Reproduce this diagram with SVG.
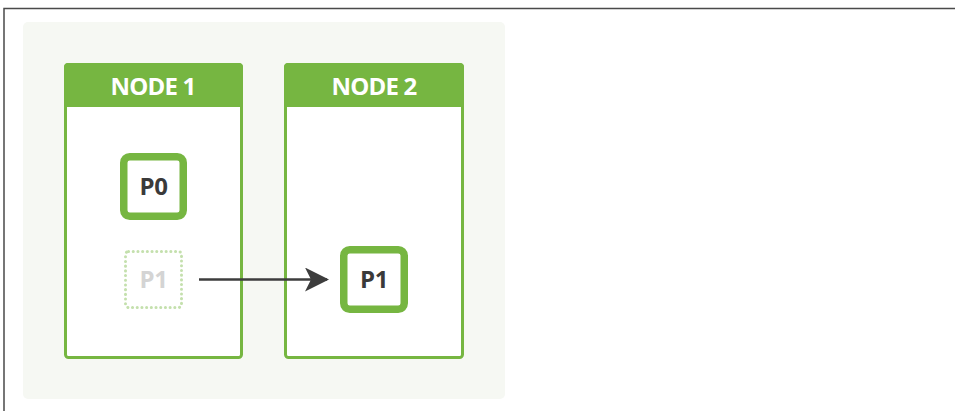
<svg xmlns="http://www.w3.org/2000/svg" width="955" height="411" viewBox="0 0 955 411">
  <defs>
    <style>
      .frame { stroke: #4a4a4a; stroke-width: 1.5; fill: none; }
      .panel { fill: #f6f8f3; }
      .nodebox { fill: #ffffff; stroke: #76b641; stroke-width: 3; }
      .nodehead { fill: #76b641; }
      .head { font-family: "Open Sans", "Liberation Sans", sans-serif; font-weight: bold; font-size: 24px; letter-spacing: -0.8px; fill: #ffffff; text-anchor: middle; }
      .part { fill: #ffffff; stroke: #76b641; stroke-width: 7.5; }
      .ghost { fill: none; stroke: #c4e0ad; stroke-width: 3; stroke-dasharray: 0.1 4.6; stroke-linecap: round; }
      .plabel { font-family: "Open Sans", "Liberation Sans", sans-serif; font-weight: bold; font-size: 24px; letter-spacing: -0.5px; fill: #3a3a3a; text-anchor: middle; }
      .glabel { fill: #d4d4d4; }
      .conn { stroke: #3d3d3d; stroke-width: 2.5; fill: none; }
    </style>
    <marker id="arrow" viewBox="0 0 24 24" refX="22" refY="12" markerWidth="24" markerHeight="24" markerUnits="userSpaceOnUse" orient="auto">
      <path d="M0,0 L24,12 L0,24 L6,12 Z" fill="#3d3d3d"/>
    </marker>
  </defs>
  <rect width="955" height="411" fill="#ffffff"/>
  <path class="frame" d="M4,411 V8.5 H955"/>
  <rect class="panel" x="23" y="22" width="482" height="377" rx="5"/>

  <g id="node1">
    <rect class="nodebox" x="65.5" y="64.5" width="176" height="293" rx="3"/>
    <path class="nodehead" d="M64,107 V67 a4,4 0 0 1 4,-4 H239 a4,4 0 0 1 4,4 V107 Z"/>
    <text class="head" x="153" y="95">NODE 1</text>
  </g>

  <g id="node2">
    <rect class="nodebox" x="285.5" y="64.5" width="177" height="293" rx="3"/>
    <path class="nodehead" d="M284,107 V67 a4,4 0 0 1 4,-4 H460 a4,4 0 0 1 4,4 V107 Z"/>
    <text class="head" x="374" y="95">NODE 2</text>
  </g>

  <g id="p0">
    <rect class="part" x="123.75" y="156.75" width="59.5" height="59.5" rx="6"/>
    <text class="plabel" x="153.5" y="194.5">P0</text>
  </g>

  <g id="p1-old">
    <rect class="ghost" x="125.5" y="251.5" width="56" height="56" rx="3"/>
    <text class="plabel glabel" x="153.5" y="287.5">P1</text>
  </g>

  <g id="p1-new">
    <rect class="part" x="343.75" y="249.75" width="60.5" height="59.5" rx="6"/>
    <text class="plabel" x="374" y="287.5">P1</text>
  </g>

  <g id="connectors">
    <line class="conn" x1="199" y1="279.5" x2="327" y2="279.5" marker-end="url(#arrow)"/>
  </g>
</svg>
